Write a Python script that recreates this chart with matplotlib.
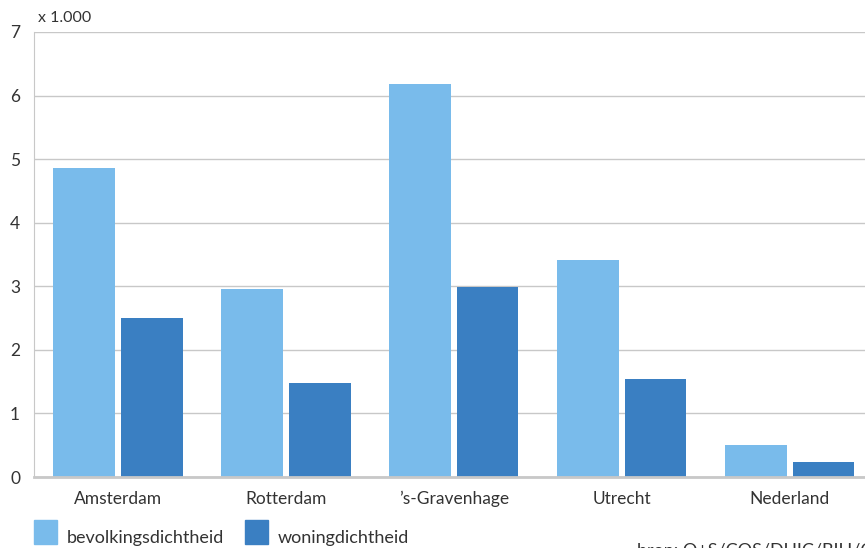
import numpy as np
import matplotlib
matplotlib.use("Agg")
from matplotlib import pyplot as plt
from matplotlib.patches import Rectangle

# data (x 1.000 per km2)
steden = ["Amsterdam", "Rotterdam", "\u2019s-Gravenhage", "Utrecht", "Nederland"]
bevolkingsdichtheid = [4.86, 2.96, 6.18, 3.41, 0.50]
woningdichtheid = [2.50, 1.48, 2.99, 1.54, 0.24]
yticks = [0, 1, 2, 3, 4, 5, 6, 7]

licht = "#79bbeb"
donker = "#3a7fc2"
tekst = "#333333"

plt.rcParams["font.family"] = ["Lato", "DejaVu Sans"]

fig = plt.figure(figsize=(8.65, 5.48), dpi=100)
ax = fig.add_axes([34 / 865, 1 - 477 / 548, 1 - 34 / 865 + 0.01, 445 / 548])

x = np.arange(len(steden))
w = 0.367
off = 0.2015
ax.bar(x - off, bevolkingsdichtheid, w, color=licht, zorder=3)
ax.bar(x + off, woningdichtheid, w, color=donker, zorder=3)

ax.set_xlim(-0.5, 4.5)
ax.set_ylim(0, 7)
ax.set_yticks(yticks)
ax.set_yticklabels([str(v) for v in yticks], fontsize=12.5, color=tekst)
ax.set_xticks(x)
ax.set_xticklabels(steden, fontsize=12.5, color=tekst)
ax.tick_params(axis="y", length=0, pad=10)
ax.tick_params(axis="x", length=0, pad=10)

ax.grid(axis="y", color="#c8c8c8", linewidth=1, zorder=0)
for s in ["top", "right"]:
    ax.spines[s].set_visible(False)
ax.spines["left"].set_color("#c8c8c8")
ax.spines["bottom"].set_color("#c8c8c8")
ax.spines["bottom"].set_linewidth(2)
ax.spines["bottom"].set_zorder(4)

fig.text(38 / 865, 1 - 18 / 548, "x 1.000", fontsize=11.5, color=tekst, va="center")

# legenda
for px, kleur, naam in [(34, licht, "bevolkingsdichtheid"), (245, donker, "woningdichtheid")]:
    fig.patches.append(Rectangle((px / 865, 1 - 544 / 548), 23 / 865, 24 / 548,
                                 transform=fig.transFigure, color=kleur, figure=fig))
    fig.text((px + 33) / 865, 1 - 538 / 548, naam, fontsize=13, color=tekst, va="center")

# bronvermelding (valt in het origineel deels buiten beeld)
fig.text(637 / 865, 1 - 551 / 548, "bron: O+S/COS/DUIC/BIH/CBS", fontsize=13,
         color=tekst, va="center")

fig.savefig("out.png", dpi=100)
